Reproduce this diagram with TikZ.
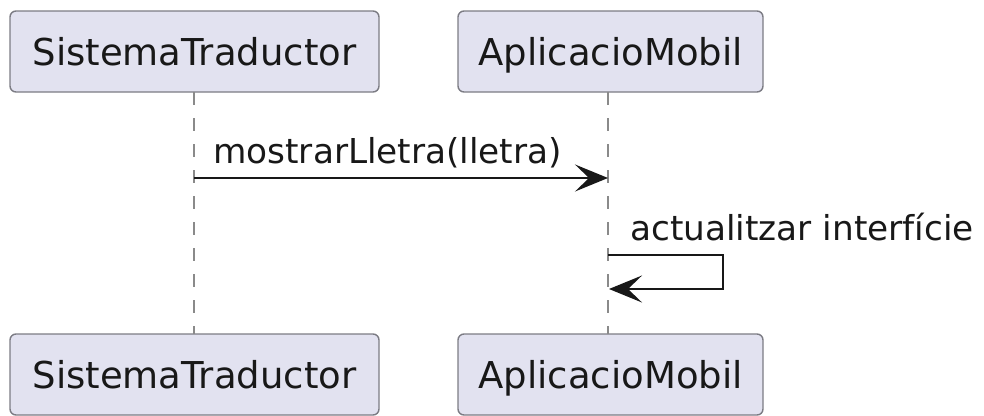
\documentclass[tikz,border=0pt]{standalone}
\usepackage{fontspec}
\setmainfont{DejaVu Sans}
\usetikzlibrary{arrows.meta}
\definecolor{partfill}{HTML}{E2E2F0}
\definecolor{partdraw}{HTML}{7C7C84}
\definecolor{lifecol}{HTML}{8A8A8A}
\definecolor{inkcol}{HTML}{181818}
\tikzset{
  partbox/.style={draw=partdraw, fill=partfill, line width=1.4pt,
    rounded corners=6pt, minimum height=81pt, inner sep=0pt,
    text height=27pt, text depth=0pt, text=inkcol,
    font=\fontsize{37}{44}\selectfont},
  lifeline/.style={draw=lifecol, line width=1.3pt, dash pattern=on 13pt off 13pt},
  msgline/.style={draw=inkcol, line width=2.2pt,
    -{Stealth[length=33pt, width=27pt, inset=14pt]}},
  msgtext/.style={inner sep=0pt, text=inkcol, font=\fontsize{34.3}{41}\selectfont}
}
\begin{document}
\begin{tikzpicture}[x=1pt, y=-1pt]
  \useasboundingbox (0,0) rectangle (984,415);
  % participants, head and foot
  \node[partbox, minimum width=369pt] (st)  at (194.5,51.5)  {SistemaTraductor};
  \node[partbox, minimum width=305pt] (am)  at (610.5,51.5)  {AplicacioMobil};
  \node[partbox, minimum width=369pt] (stb) at (194.5,374.5) {SistemaTraductor};
  \node[partbox, minimum width=305pt] (amb) at (610.5,374.5) {AplicacioMobil};
  % lifelines
  \coordinate (stl1) at (194,92);
  \coordinate (stl2) at (194,334);
  \coordinate (aml1) at (608,92);
  \coordinate (aml2) at (608,334);
  \draw[lifeline] (stl1) -- (stl2);
  \draw[lifeline] (aml1) -- (aml2);
  % message SistemaTraductor -> AplicacioMobil
  \coordinate (m1a) at (194,178);
  \coordinate (m1b) at (608,178);
  \draw[msgline] (m1a) -- (m1b);
  \node[msgtext, anchor=base west] (m1t) at (213,163) {mostrarLletra(lletra)};
  % self message on AplicacioMobil
  \coordinate (m2a) at (608,255);
  \coordinate (m2c) at (723,255);
  \coordinate (m2d) at (723,289);
  \coordinate (m2b) at (609,289);
  \draw[msgline] (m2a) -- (m2c) -- (m2d) -- (m2b);
  \node[msgtext, anchor=base west] (m2t) at (630,240) {actualitzar interfície};
\end{tikzpicture}
\end{document}
